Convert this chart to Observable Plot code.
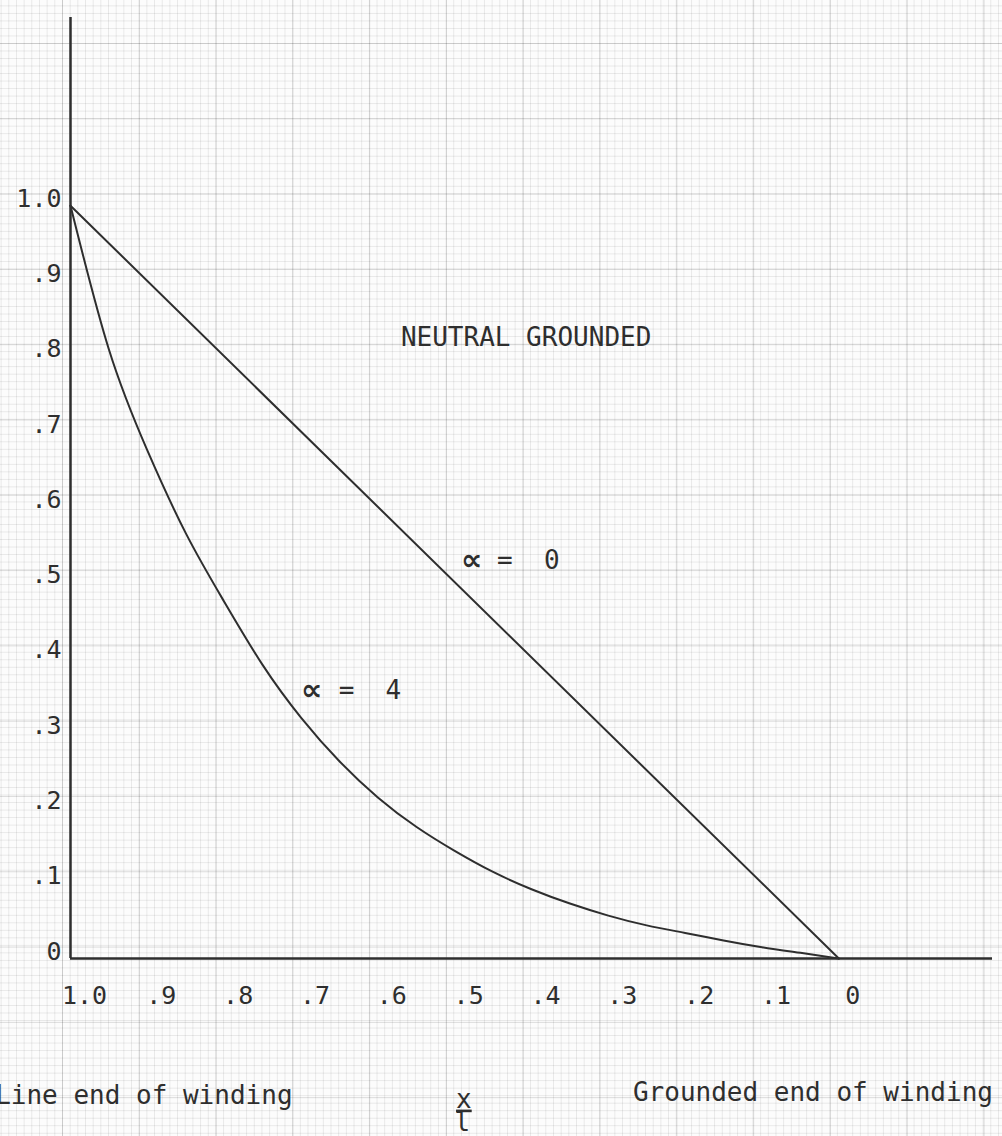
<!DOCTYPE html>
<html>
<head>
<meta charset="utf-8">
<script src="https://cdn.jsdelivr.net/npm/d3@7"></script>
<script src="https://cdn.jsdelivr.net/npm/@observablehq/plot@0.6"></script>
<style>
  html, body { margin: 0; padding: 0; overflow: hidden; }
  body {
    width: 1002px; height: 1136px;
    background-color: #fcfcfc;
    background-image:
      linear-gradient(to right, rgba(0,0,0,0.13) 1px, transparent 1px),
      linear-gradient(to bottom, rgba(0,0,0,0.13) 1px, transparent 1px),
      linear-gradient(to right, rgba(0,0,0,0.08) 1px, transparent 1px),
      linear-gradient(to bottom, rgba(0,0,0,0.08) 1px, transparent 1px);
    background-size: 76.8px 75.3px, 76.8px 75.3px, 7.68px 7.53px, 7.68px 7.53px;
    background-position: 62px 43px, 62px 43px, 62px 43px, 62px 43px;
  }
  #chart svg text { white-space: pre; }
  .frac text { text-decoration: underline; }
</style>
</head>
<body>
<div id="chart"></div>
<script>
// Tick values and labels
const xTicks = [1.0, 0.9, 0.8, 0.7, 0.6, 0.5, 0.4, 0.3, 0.2, 0.1, 0];
const xTickLabels = ["1.0", ".9", ".8", ".7", ".6", ".5", ".4", ".3", ".2", ".1", "0"];
const yTicks = [0, 0.1, 0.2, 0.3, 0.4, 0.5, 0.6, 0.7, 0.8, 0.9, 1.0];
const yTickLabels = ["0", ".1", ".2", ".3", ".4", ".5", ".6", ".7", ".8", ".9", "1.0"];

// Series: alpha = 0 (straight line)
const alpha0X = [1.0, 0];
const alpha0Y = [1.0, 0];

// Series: alpha = 4
const alpha4X = [1.0, 0.95, 0.90, 0.85, 0.80, 0.75, 0.70, 0.65, 0.60, 0.55, 0.50, 0.45, 0.40, 0.35, 0.30, 0.25, 0.20, 0.15, 0.10, 0.05, 0.0];
const alpha4Y = [1.0, 0.809, 0.675, 0.565, 0.474, 0.390, 0.320, 0.262, 0.214, 0.175, 0.143, 0.115, 0.092, 0.073, 0.057, 0.044, 0.034, 0.024, 0.015, 0.0075, 0.0];

// Annotations
const titleText = ["NEUTRAL GROUNDED"];
const symbolText = ["\u221D", "\u221D"];
const symbolX = [0.478, 0.686];
const symbolY = [0.529, 0.356];
const valueText = ["=  0", "=  4"];
const valueX = [0.445, 0.651];

const bottomLeftText = ["Line end of winding"];
const bottomRightText = ["Grounded end of winding"];
const fracTop = ["x"];
const fracBottom = ["l"];

const s0 = alpha0X.map((x, i) => ({x, y: alpha0Y[i]}));
const s4 = alpha4X.map((x, i) => ({x, y: alpha4Y[i]}));
const syms = symbolText.map((t, i) => ({t, x: symbolX[i], y: symbolY[i]}));
const vals = valueText.map((t, i) => ({t, x: valueX[i], y: symbolY[i]}));

const ink = "#2e2e2e";
const font = "DejaVu Sans Mono";

const chart = Plot.plot({
  width: 1002,
  height: 1136,
  marginLeft: 70,
  marginRight: 10,
  marginTop: 17,
  marginBottom: 178,
  x: {domain: [1, -0.2]},
  y: {domain: [0, 1.25]},
  style: {background: "transparent", fontFamily: font, color: ink, overflow: "visible"},
  marks: [
    Plot.axisY({ticks: yTicks, tickFormat: d => yTickLabels[yTicks.indexOf(d)], tickSize: 0, tickPadding: 9, fontSize: 25, dy: -7, label: null, fill: ink}),
    Plot.axisX({ticks: xTicks, tickFormat: d => xTickLabels[xTicks.indexOf(d)], tickSize: 0, tickPadding: 28, fontSize: 25, dx: 14, label: null, fill: ink}),
    Plot.ruleX([1], {y1: 0, y2: 1.25, stroke: ink, strokeWidth: 2.5}),
    Plot.ruleY([0], {x1: 1, x2: -0.2, stroke: ink, strokeWidth: 2.5}),
    Plot.line(s0, {x: "x", y: "y", stroke: ink, strokeWidth: 2}),
    Plot.line(s4, {x: "x", y: "y", stroke: ink, strokeWidth: 2, curve: "natural"}),
    Plot.text(titleText, {x: 0.570, y: 0.825, text: d => d, textAnchor: "start", fontSize: 26, fill: ink}),
    Plot.text(syms, {x: "x", y: "y", text: "t", fontSize: 30, fontWeight: "bold", fontFamily: "DejaVu Sans", fill: ink}),
    Plot.text(vals, {x: "x", y: "y", text: "t", textAnchor: "start", fontSize: 26, fill: ink}),
    Plot.text(bottomLeftText, {x: 0.711, y: -0.182, text: d => d, textAnchor: "end", fontSize: 26, fill: ink}),
    Plot.text(bottomRightText, {x: 0.268, y: -0.178, text: d => d, textAnchor: "start", fontSize: 26, fill: ink}),
    Plot.text(fracTop, {x: 0.488, y: -0.187, text: d => d, fontSize: 26, fill: ink, className: "frac"}),
    Plot.text(fracBottom, {x: 0.490, y: -0.218, text: d => d, fontSize: 26, fill: ink})
  ]
});
document.getElementById("chart").appendChild(chart);
</script>
</body>
</html>
